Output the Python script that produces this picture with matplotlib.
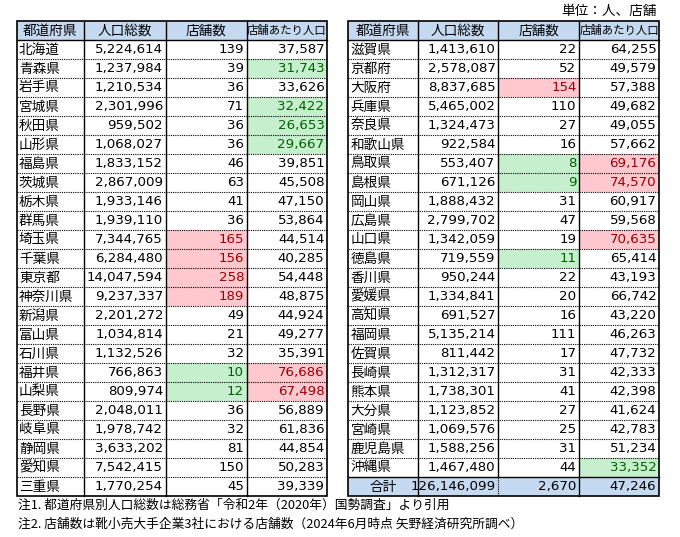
import matplotlib.pyplot as plt
import matplotlib as mpl
from matplotlib.patches import Rectangle
mpl.use('Agg')

plt.rcParams['font.family'] = ['Noto Sans CJK JP', 'DejaVu Sans']

############ DATA #############
headers = ['都道府県', '人口総数', '店舗数', '店舗あたり人口']

pref_left = ['北海道', '青森県', '岩手県', '宮城県', '秋田県', '山形県', '福島県', '茨城県',
             '栃木県', '群馬県', '埼玉県', '千葉県', '東京都', '神奈川県', '新潟県', '富山県',
             '石川県', '福井県', '山梨県', '長野県', '岐阜県', '静岡県', '愛知県', '三重県']
pop_left = [5224614, 1237984, 1210534, 2301996, 959502, 1068027, 1833152, 2867009,
            1933146, 1939110, 7344765, 6284480, 14047594, 9237337, 2201272, 1034814,
            1132526, 766863, 809974, 2048011, 1978742, 3633202, 7542415, 1770254]
shops_left = [139, 39, 36, 71, 36, 36, 46, 63, 41, 36, 165, 156, 258, 189, 49, 21,
              32, 10, 12, 36, 32, 81, 150, 45]
per_left = [37587, 31743, 33626, 32422, 26653, 29667, 39851, 45508, 47150, 53864, 44514,
            40285, 54448, 48875, 44924, 49277, 35391, 76686, 67498, 56889, 61836, 44854,
            50283, 39339]

pref_right = ['滋賀県', '京都府', '大阪府', '兵庫県', '奈良県', '和歌山県', '鳥取県', '島根県',
              '岡山県', '広島県', '山口県', '徳島県', '香川県', '愛媛県', '高知県', '福岡県',
              '佐賀県', '長崎県', '熊本県', '大分県', '宮崎県', '鹿児島県', '沖縄県']
pop_right = [1413610, 2578087, 8837685, 5465002, 1324473, 922584, 553407, 671126,
             1888432, 2799702, 1342059, 719559, 950244, 1334841, 691527, 5135214,
             811442, 1312317, 1738301, 1123852, 1069576, 1588256, 1467480]
shops_right = [22, 52, 154, 110, 27, 16, 8, 9, 31, 47, 19, 11, 22, 20, 16, 111,
               17, 31, 41, 27, 25, 31, 44]
per_right = [64255, 49579, 57388, 49682, 49055, 57662, 69176, 74570, 60917, 59568, 70635,
             65414, 43193, 66742, 43220, 46263, 47732, 42333, 42398, 41624, 42783, 51234,
             33352]

total = ['合計', 126146099, 2670, 47246]

unit_text = '単位：人、店舗'
notes = ['注1. 都道府県別人口総数は総務省「令和2年（2020年）国勢調査」より引用',
         '注2. 店舗数は靴小売大手企業3社における店舗数（2024年6月時点 矢野経済研究所調べ）']

############ STYLE #############
HEAD_BG = '#C5D9F1'
GREEN_BG, GREEN_FG = '#C6EFCE', '#006100'
RED_BG, RED_FG = '#FFC7CE', '#9C0006'

# conditional formatting: top 5 red, bottom 5 green
def top_bottom(values, n=5):
    s = sorted(values)
    return s[-n], s[n - 1]

shop_hi, shop_lo = top_bottom(shops_left + shops_right)
per_hi, per_lo = top_bottom(per_left + per_right)

def cell_style(value, hi, lo):
    if value >= hi:
        return RED_BG, RED_FG
    if value <= lo:
        return GREEN_BG, GREEN_FG
    return None, 'black'

fig = plt.figure(figsize=(6.8, 5.37), dpi=100)
ax = fig.add_axes([0, 0, 1, 1])
ax.set_xlim(0, 680)
ax.set_ylim(537, 0)
ax.axis('off')

top = 20.5
row_h = 19.0
pad = 2.5
num_font = dict(family='DejaVu Sans', fontsize=9.6)
jp_font = dict(fontsize=9.8)


def draw_table(xs, prefs, pops, shops, pers, total_row=None):
    nrows = len(prefs) + (1 if total_row else 0)
    bottom = top + row_h * (nrows + 1)
    # header
    for j in range(4):
        ax.add_patch(Rectangle((xs[j], top), xs[j + 1] - xs[j], row_h, color=HEAD_BG, lw=0))
        fs = 8.2 if j == 3 else 9.8
        ax.text((xs[j] + xs[j + 1]) / 2, top + row_h / 2 + 0.5, headers[j],
                ha='center', va='center', fontsize=fs)
    # body
    for i, name in enumerate(prefs):
        y0 = top + row_h * (i + 1)
        yc = y0 + row_h / 2 + 0.5
        ax.text(xs[0] + pad, yc, name, ha='left', va='center', **jp_font)
        ax.text(xs[2] - pad, yc, f'{pops[i]:,}', ha='right', va='center', **num_font)
        for j, (val, hi, lo) in ((2, (shops[i], shop_hi, shop_lo)), (3, (pers[i], per_hi, per_lo))):
            bg, fg = cell_style(val, hi, lo)
            if bg:
                ax.add_patch(Rectangle((xs[j], y0), xs[j + 1] - xs[j], row_h, color=bg, lw=0))
            ax.text(xs[j + 1] - pad, yc, f'{val:,}', ha='right', va='center', color=fg, **num_font)
        if i > 0:
            ax.plot([xs[0], xs[-1]], [y0, y0], color='black', lw=0.8, ls=(0, (1, 1)))
    if total_row:
        y0 = top + row_h * (len(prefs) + 1)
        yc = y0 + row_h / 2 + 0.5
        ax.add_patch(Rectangle((xs[0], y0), xs[-1] - xs[0], row_h, color=HEAD_BG, lw=0))
        ax.text((xs[0] + xs[1]) / 2, yc, total_row[0], ha='center', va='center', **jp_font)
        for j in range(1, 4):
            ax.text(xs[j + 1] - pad, yc, f'{total_row[j]:,}', ha='right', va='center', **num_font)
        ax.plot([xs[0], xs[-1]], [y0, y0], color='black', lw=1)
    # lines
    ax.plot([xs[0], xs[-1]], [top + row_h] * 2, color='black', lw=1)
    ax.add_patch(Rectangle((xs[0], top), xs[-1] - xs[0], bottom - top, fill=False,
                           ec='black', lw=1.2))
    for j in range(1, 4):
        if total_row and j == 2:
            ax.plot([xs[j]] * 2, [top, bottom - row_h], color='black', lw=1)
            ax.plot([xs[j]] * 2, [bottom - row_h, bottom], color='black', lw=0.8, ls=(0, (1, 1)))
        else:
            ax.plot([xs[j]] * 2, [top, bottom], color='black', lw=1)


draw_table([16.5, 84, 165.5, 246.5, 327], pref_left, pop_left, shops_left, per_left)
draw_table([348, 417.5, 498, 579, 659], pref_right, pop_right, shops_right, per_right, total)

ax.text(657, 11, unit_text, ha='right', va='center', **jp_font)
for k, note in enumerate(notes):
    ax.text(18, 505 + 19.5 * k, note, ha='left', va='center', fontsize=9.2)

plt.savefig('out.png', dpi=100)
